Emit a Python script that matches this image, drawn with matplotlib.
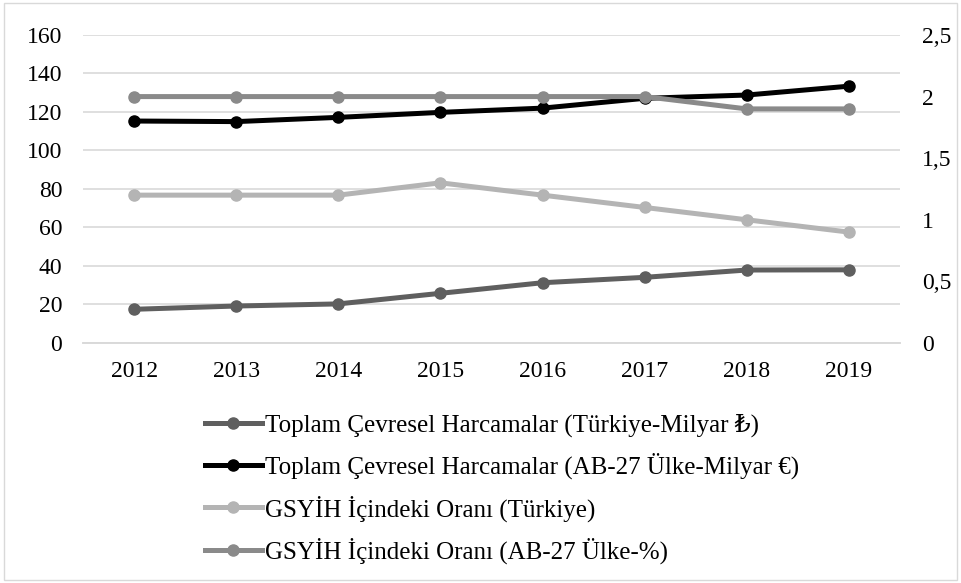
import matplotlib
matplotlib.use("Agg")
import matplotlib.pyplot as plt
from matplotlib.ticker import FuncFormatter, MultipleLocator
from matplotlib.patches import Rectangle

plt.rcParams['font.family'] = ['Liberation Serif', 'DejaVu Serif']

years = ['2012', '2013', '2014', '2015', '2016', '2017', '2018', '2019']
tr_spend = [17.5, 19.2, 20.3, 25.8, 31.3, 34.1, 37.9, 38.0]
eu_spend = [115.3, 115.0, 117.2, 119.8, 122.0, 127.1, 128.8, 133.4]
tr_gdp_share = [1.2, 1.2, 1.2, 1.3, 1.2, 1.1, 1.0, 0.9]
eu_gdp_share = [2.0, 2.0, 2.0, 2.0, 2.0, 2.0, 1.9, 1.9]

labels = ['Toplam Çevresel Harcamalar (Türkiye-Milyar ₺)',
          'Toplam Çevresel Harcamalar (AB-27 Ülke-Milyar €)',
          'GSYİH İçindeki Oranı (Türkiye)',
          'GSYİH İçindeki Oranı (AB-27 Ülke-%)']
colors = ['#5f5f5f', '#000000', '#b4b4b4', '#8a8a8a']

fig = plt.figure(figsize=(9.61, 5.83), dpi=100)
fig.patches.append(Rectangle((0.004, 0.006), 0.992, 0.988, transform=fig.transFigure,
                             fill=False, edgecolor='#d9d9d9', linewidth=1))

ax = fig.add_axes([0.0864, 0.4117, 0.85, 0.5283])
ax2 = ax.twinx()

x = range(len(years))
lw = 3.6
ms = 8
l1, = ax.plot(x, tr_spend, color=colors[0], lw=lw, marker='o', ms=ms)
l2, = ax.plot(x, eu_spend, color=colors[1], lw=lw, marker='o', ms=ms)
l3, = ax2.plot(x, tr_gdp_share, color=colors[2], lw=lw, marker='o', ms=ms)
l4, = ax2.plot(x, eu_gdp_share, color=colors[3], lw=lw, marker='o', ms=ms)

ax.set_xlim(-0.5, len(years) - 0.5)
ax.set_xticks(list(x))
ax.set_xticklabels(years)
ax.set_ylim(0, 160)
ax.yaxis.set_major_locator(MultipleLocator(20))
ax2.set_ylim(0, 2.5)
ax2.yaxis.set_major_locator(MultipleLocator(0.5))
ax2.yaxis.set_major_formatter(FuncFormatter(lambda v, p: ('%g' % v).replace('.', ',')))

ax.grid(axis='y', color='#d9d9d9', linewidth=1.2)
ax.set_axisbelow(True)
for a in (ax, ax2):
    for s in ('top', 'left', 'right'):
        a.spines[s].set_visible(False)
    a.spines['bottom'].set_color('#d9d9d9')
    a.spines['bottom'].set_linewidth(1.2)
    a.tick_params(length=0, labelsize=17, colors='#000000')
ax.tick_params(axis='y', pad=15)
ax2.tick_params(axis='y', pad=16)
ax.tick_params(axis='x', pad=13)

fig.legend([l1, l2, l3, l4], labels, loc='upper left', bbox_to_anchor=(0.213, 0.291),
           frameon=False, fontsize=18, handlelength=2.3, handletextpad=0.12,
           labelspacing=0.64, borderaxespad=0, borderpad=0)

fig.savefig('out.png', dpi=100)
